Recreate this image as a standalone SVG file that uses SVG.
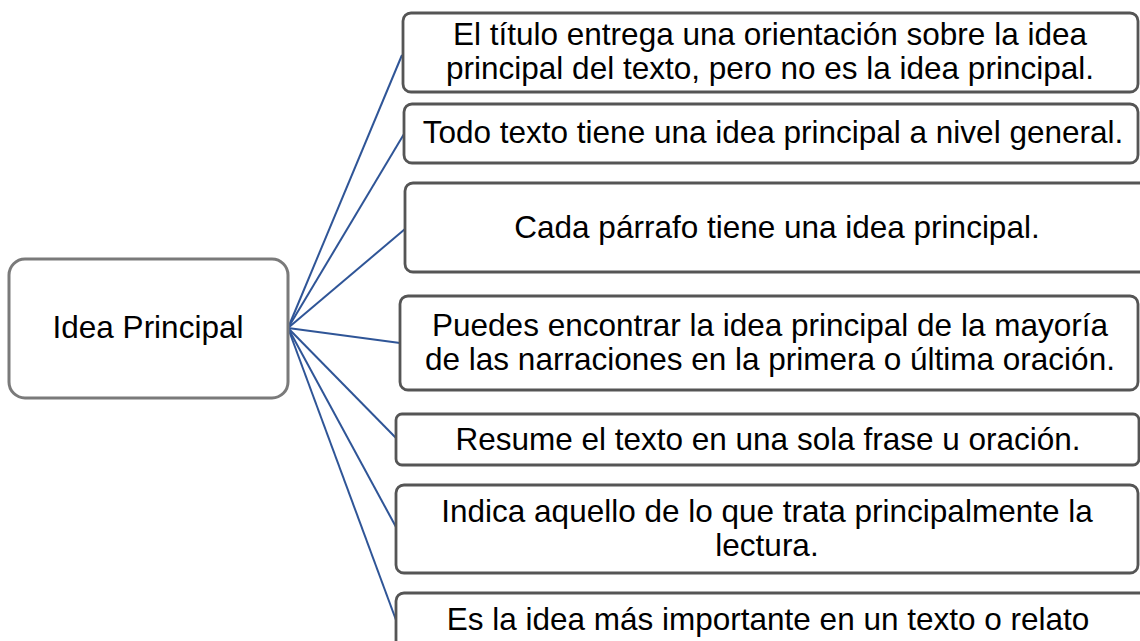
<svg xmlns="http://www.w3.org/2000/svg" width="1140" height="641" viewBox="0 0 1140 641">
  <defs>
    <filter id="soft" x="-5%" y="-5%" width="110%" height="110%">
      <feGaussianBlur stdDeviation="0.7"/>
    </filter>
  </defs>
  <style>
    .box { fill: #ffffff; stroke: #555555; stroke-width: 2.8; }
    .root { fill: #ffffff; stroke: #7a7a7a; stroke-width: 3; }
    .conn { stroke: #2f5597; stroke-width: 2; fill: none; }
    text { font-family: "Liberation Sans", Arial, sans-serif; font-size: 31.5px; fill: #000000; text-anchor: middle; }
  </style>
  <rect width="1140" height="641" fill="#ffffff"/>
  <g id="connectors">
    <line class="conn" x1="288" y1="328" x2="402" y2="55"/>
    <line class="conn" x1="288" y1="328" x2="404" y2="134"/>
    <line class="conn" x1="288" y1="328" x2="405" y2="229"/>
    <line class="conn" x1="288" y1="328" x2="400" y2="343"/>
    <line class="conn" x1="288" y1="328" x2="396" y2="438"/>
    <line class="conn" x1="288" y1="328" x2="396" y2="527"/>
    <line class="conn" x1="288" y1="328" x2="396" y2="620"/>
  </g>
  <g id="root">
    <rect class="root" x="9" y="259" width="279" height="139" rx="16" filter="url(#soft)"/>
    <text x="148" y="338">Idea Principal</text>
  </g>
  <g id="n1">
    <rect class="box" x="403" y="13" width="735" height="79" rx="8" filter="url(#soft)"/>
    <text x="770" y="45">El título entrega una orientación sobre la idea</text>
    <text x="770" y="79">principal del texto, pero no es la idea principal.</text>
  </g>
  <g id="n2">
    <rect class="box" x="404" y="104" width="734" height="59" rx="8" filter="url(#soft)"/>
    <text x="773" y="143">Todo texto tiene una idea principal a nivel general.</text>
  </g>
  <g id="n3">
    <rect class="box" x="405" y="183" width="745" height="89" rx="8" filter="url(#soft)"/>
    <text x="777" y="238">Cada párrafo tiene una idea principal.</text>
  </g>
  <g id="n4">
    <rect class="box" x="400" y="296" width="738" height="94" rx="8" filter="url(#soft)"/>
    <text x="770" y="336">Puedes encontrar la idea principal de la mayoría</text>
    <text x="770" y="370">de las narraciones en la primera o última oración.</text>
  </g>
  <g id="n5">
    <rect class="box" x="396" y="414" width="743" height="51" rx="6" filter="url(#soft)"/>
    <text x="768" y="450">Resume el texto en una sola frase u oración.</text>
  </g>
  <g id="n6">
    <rect class="box" x="396" y="485" width="742" height="88" rx="8" filter="url(#soft)"/>
    <text x="767" y="522">Indica aquello de lo que trata principalmente la</text>
    <text x="767" y="556">lectura.</text>
  </g>
  <g id="n7">
    <rect class="box" x="396" y="593" width="760" height="80" rx="8" filter="url(#soft)"/>
    <text x="768" y="630">Es la idea más importante en un texto o relato</text>
  </g>
</svg>
